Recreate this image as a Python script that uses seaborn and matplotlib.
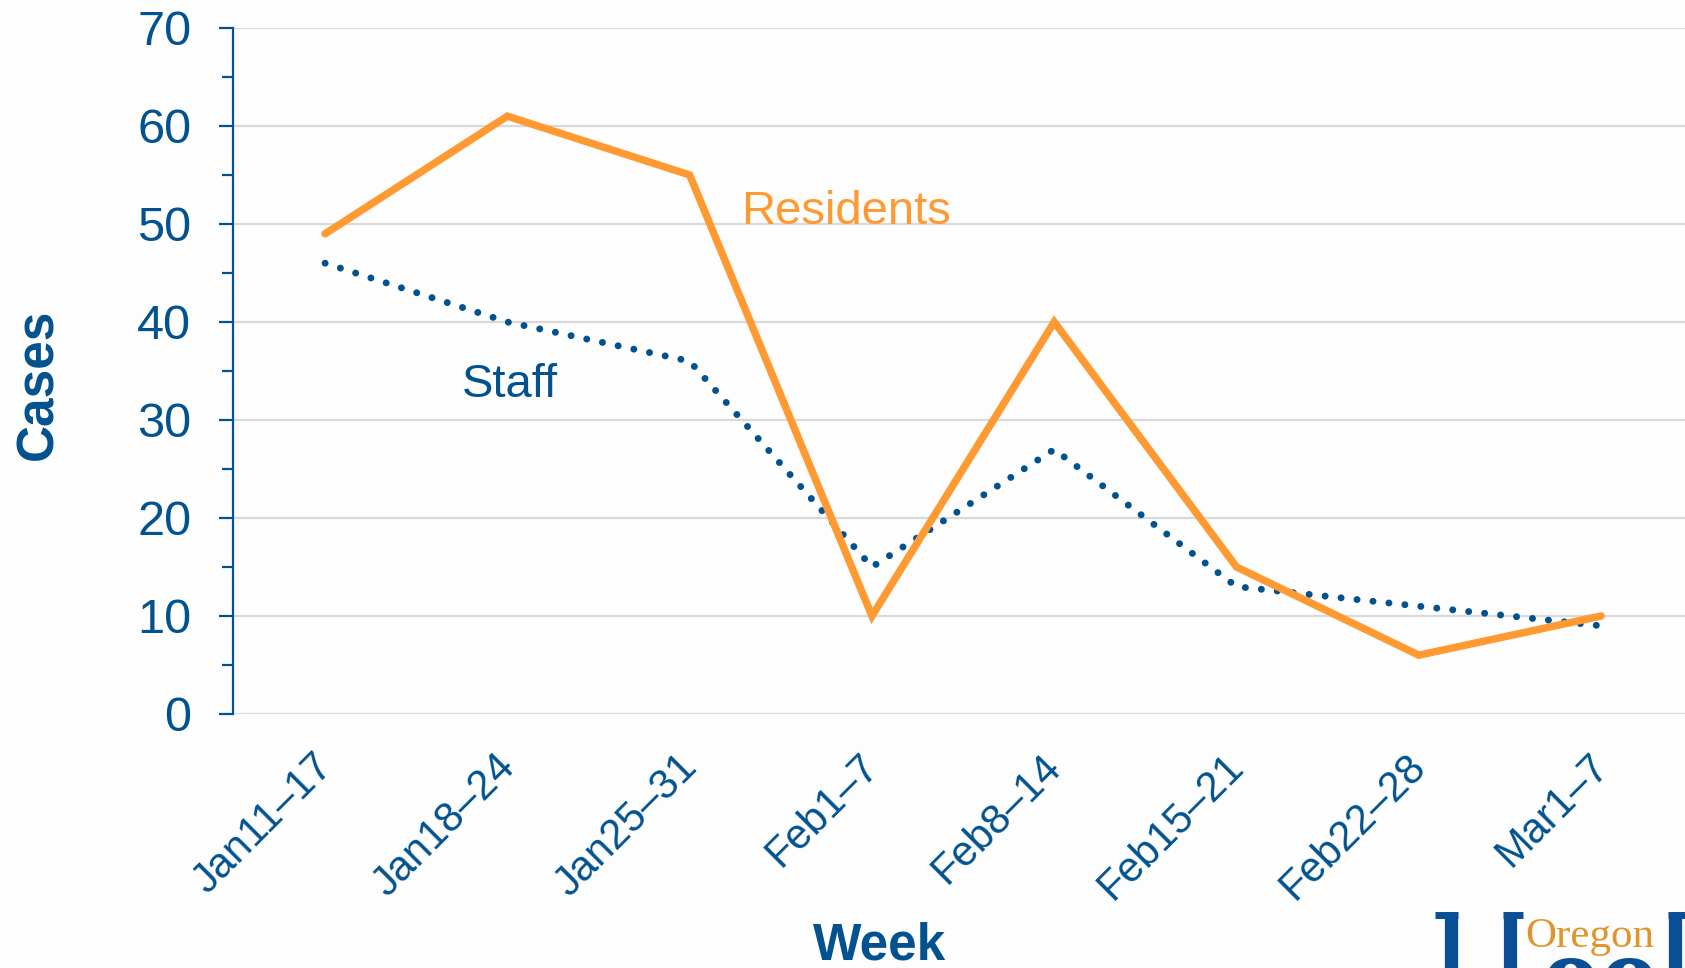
"""Weekly COVID-19 cases: residents vs staff."""

import pandas as pd
import numpy as np
import matplotlib
matplotlib.use("Agg")
import matplotlib.pyplot as plt
import matplotlib.transforms as mtransforms
import seaborn as sns
from matplotlib.ticker import MultipleLocator
from matplotlib.lines import Line2D

weeks = ["Jan11–17", "Jan18–24", "Jan25–31", "Feb1–7",
         "Feb8–14", "Feb15–21", "Feb22–28", "Mar1–7"]
residents = [49, 61, 55, 10, 40, 15, 6, 10]
staff = [46, 40, 36, 15, 27, 13, 11, 9]

BLUE = "#02528f"
ORANGE = "#ff9a33"
BG = "#fdfdfd"

df = pd.DataFrame({"week": weeks, "Residents": residents, "Staff": staff})

sns.set_style("white")
plt.rcParams["font.family"] = ["Liberation Sans", "DejaVu Sans"]

fig = plt.figure(figsize=(16.85, 9.68), dpi=100, facecolor=BG)
ax = fig.add_axes([0.1383, 0.2624, 0.866, 0.7087], facecolor=BG)

# staff first so residents sit on top
sns.lineplot(data=df, x="week", y="Staff", sort=False, ax=ax, color=BLUE,
             zorder=3)
sns.lineplot(data=df, x="week", y="Residents", sort=False, ax=ax,
             color=ORANGE, zorder=4)
staff_line, res_line = ax.get_lines()[:2]
staff_line.set_linewidth(5.0)
staff_line.set_linestyle((0, (0.01, 2.3)))
staff_line.set_dash_capstyle("round")
res_line.set_linewidth(5.4)
res_line.set_solid_capstyle("round")
res_line.set_solid_joinstyle("miter")

ax.set_xlim(-0.505, len(weeks) - 0.5)
ax.set_ylim(0, 70)
ax.yaxis.set_major_locator(MultipleLocator(10))
ax.yaxis.set_minor_locator(MultipleLocator(5))
ax.grid(axis="y", which="major", color="#d9d9d9", linewidth=1.6, zorder=0)
ax.grid(axis="x", visible=False)

for side in ["top", "right", "bottom"]:
    ax.spines[side].set_visible(False)
ax.spines["left"].set_color(BLUE)
ax.spines["left"].set_linewidth(1.6)

ax.tick_params(axis="y", which="major", left=True, length=10, width=1.6,
               color=BLUE, labelcolor=BLUE, labelsize=35, pad=20)
ax.tick_params(axis="y", which="minor", left=True, length=8, width=1.6,
               color=BLUE)
ax.tick_params(axis="x", bottom=False, labelcolor=BLUE, labelsize=30, pad=22)
shift = mtransforms.ScaledTranslation(-0.13, 0.03, fig.dpi_scale_trans)
for lab in ax.get_xticklabels():
    lab.set_rotation(45)
    lab.set_ha("right")
    lab.set_rotation_mode("anchor")
    lab.set_transform(lab.get_transform() + shift)

ax.set_ylabel("Cases", fontsize=37, fontweight="bold", color=BLUE)
ax.yaxis.set_label_coords(-0.116, 0.48)
ax.set_xlabel("Week", fontsize=37, fontweight="bold", color=BLUE)
ax.xaxis.set_label_coords(0.443, -0.303)

ax.text(2.858, 51.2, "Residents", color=ORANGE, fontsize=34,
        ha="center", va="center")
ax.text(1.014, 33.6, "Staff", color=BLUE, fontsize=34,
        ha="center", va="center")

# partial logo at the lower right corner (cut off by the page edge)
H = 968.0
W = 1685.0
LOGO_BLUE = "#0a4f96"


def px_line(x0, y0, x1, y1, lw):
    fig.add_artist(Line2D([x0 / W, x1 / W], [1 - y0 / H, 1 - y1 / H],
                          color=LOGO_BLUE, linewidth=lw,
                          solid_capstyle="butt", transform=fig.transFigure))


px_line(1451, 912, 1451, 968, 9.5)
px_line(1435, 915, 1458, 915, 5)
px_line(1510, 912, 1510, 968, 9.5)
px_line(1503, 915, 1523, 915, 5)
px_line(1675, 912, 1675, 968, 9.5)
px_line(1668, 915, 1690, 915, 5)
fig.text(1590 / W, 1 - 947 / H, "Oregon", color="#e0952a", fontsize=31,
         family=["Liberation Serif", "DejaVu Serif"], ha="center",
         va="baseline")
fig.text(1600 / W, 1 - 1014 / H, "oo", color=LOGO_BLUE, fontsize=86,
         fontweight="bold", family=["Liberation Serif", "DejaVu Serif"],
         ha="center", va="baseline", zorder=0)

fig.savefig("out.png", dpi=100, facecolor=BG)
